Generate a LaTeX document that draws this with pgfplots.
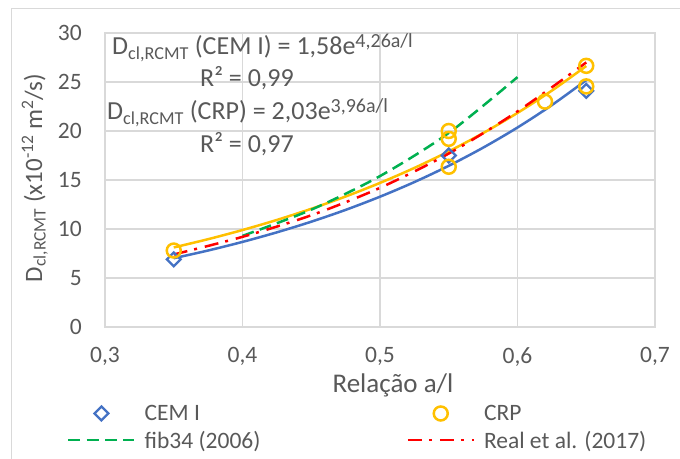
\documentclass[border=0pt]{standalone}
\usepackage{fontspec}
\setmainfont{Carlito}
\usepackage{pgfplots}
\pgfplotsset{compat=1.18}
\definecolor{txt}{HTML}{595959}
\definecolor{gridc}{HTML}{D9D9D9}
\definecolor{cblue}{HTML}{4472C4}
\definecolor{cgold}{HTML}{FFC000}
\definecolor{cgreen}{HTML}{00B050}
\definecolor{cred}{HTML}{FF0000}
\newcommand{\sups}[1]{\raisebox{7.5bp}{\fontsize{20bp}{24bp}\selectfont #1}}
\pgfplotsset{
  marklegend/.style={legend image code/.code={\draw[mark repeat=2,mark phase=2,##1] plot coordinates {(0bp,0bp) (33bp,0bp) (66bp,0bp)};}},
  linelegend/.style={legend image code/.code={\draw[##1] (0bp,0bp) -- (66bp,0bp);}},
}
\begin{document}
\begin{tikzpicture}
\useasboundingbox (-105bp,-132bp) rectangle (575bp,327bp);
\draw[gridc, line width=1bp] (-93bp,-140bp) -- (-93bp,318bp) -- (590bp,318bp);
\begin{axis}[
  scale only axis, width=550bp, height=294bp,
  xmin=0.3, xmax=0.7, ymin=0, ymax=30,
  xtick={0.3,0.4,0.5,0.6,0.7}, ytick={0,5,10,15,20,25,30},
  major tick length=0pt,
  grid=major, grid style={gridc, line width=1.5bp},
  axis line style={gridc, line width=1.5bp},
  /pgf/number format/assume math mode=true,
  x tick label style={/pgf/number format/fixed, /pgf/number format/fixed zerofill, /pgf/number format/precision=1, /pgf/number format/use comma},
  tick label style={font=\fontsize{23.5bp}{28bp}\selectfont, text=txt, inner sep=0pt},
  yticklabel style={anchor=east, xshift=-23bp},
  xticklabel style={anchor=north, yshift=-20bp},
  xlabel={Relação a/l},
  xlabel style={at={(rel axis cs:0.5236,0)}, anchor=base, yshift=-65bp, font=\fontsize{27bp}{32bp}\selectfont, text=txt, inner sep=0pt},
  ylabel={D\textsubscript{cl,RCMT} (x10\textsuperscript{-12} m\textsuperscript{2}/s)},
  ylabel style={at={(rel axis cs:-0.1145,0.507)}, anchor=base, font=\fontsize{25bp}{30bp}\selectfont, text=txt, inner sep=0pt},
  legend columns=2,
  legend style={at={(rel axis cs:-0.0691,-0.265)}, anchor=north west, draw=none, fill=none, inner sep=0pt,
    font=\fontsize{23.5bp}{28bp}\selectfont, text=txt, cells={anchor=west}, nodes={inner sep=0pt},
    column sep=9bp, row sep=9bp, /tikz/every even column/.append style={column sep=146bp}},
]
% trendlines (exponential fits)
\addplot[cblue, line width=2.5bp, smooth, forget plot] coordinates {
 (0.35,7.018) (0.375,7.806) (0.40,8.683) (0.425,9.659) (0.45,10.744) (0.475,11.951) (0.50,13.296)
 (0.525,14.789) (0.55,16.451) (0.575,18.300) (0.60,20.356) (0.625,22.643) (0.65,25.188)};
\addplot[cgold, line width=2.5bp, smooth, forget plot] coordinates {
 (0.35,8.118) (0.375,8.962) (0.40,9.895) (0.425,10.924) (0.45,12.061) (0.475,13.316) (0.50,14.703)
 (0.525,16.232) (0.55,17.921) (0.575,19.786) (0.60,21.846) (0.625,24.119) (0.65,26.628)};
% data
\addplot[cblue, only marks, mark=square, mark size=4.9bp, mark options={rotate=45, line width=2.3bp, cblue}, marklegend]
  coordinates {(0.35,6.9) (0.55,17.5) (0.65,24.1)};
\addlegendentry{CEM I}
\addplot[cgold, only marks, mark=o, mark size=7bp, mark options={line width=2.5bp, cgold}, marklegend]
  coordinates {(0.35,7.8) (0.55,16.35) (0.55,19.2) (0.55,20.0) (0.62,23.0) (0.65,24.55) (0.65,26.65)};
\addlegendentry{CRP}
\addplot[cgreen, line width=2.5bp, dash pattern=on 12bp off 6.3bp, smooth, linelegend]
  coordinates {(0.40,9.3) (0.45,11.97) (0.50,15.4) (0.55,19.8) (0.60,25.5)};
\addlegendentry{fib34 (2006)}
\addplot[cred, line width=2.5bp, dash pattern=on 14bp off 7bp on 3bp off 8bp, smooth, linelegend]
  coordinates {(0.35,7.4) (0.40,9.2) (0.45,11.4) (0.50,14.2) (0.55,17.7) (0.60,22.0) (0.65,27.0)};
\addlegendentry{Real et al. (2017)}
\end{axis}
\begin{scope}[every node/.style={font=\fontsize{26bp}{31bp}\selectfont, text=txt, inner sep=0pt, anchor=base west}]
\node at (7bp,272bp) {D\textsubscript{cl,RCMT} (CEM I) = 1,58e\sups{4,26a/l}};
\node at (95bp,240bp) {R² = 0,99};
\node at (2bp,207bp) {D\textsubscript{cl,RCMT} (CRP) = 2,03e\sups{3,96a/l}};
\node at (95bp,174bp) {R² = 0,97};
\end{scope}
\end{tikzpicture}
\end{document}
